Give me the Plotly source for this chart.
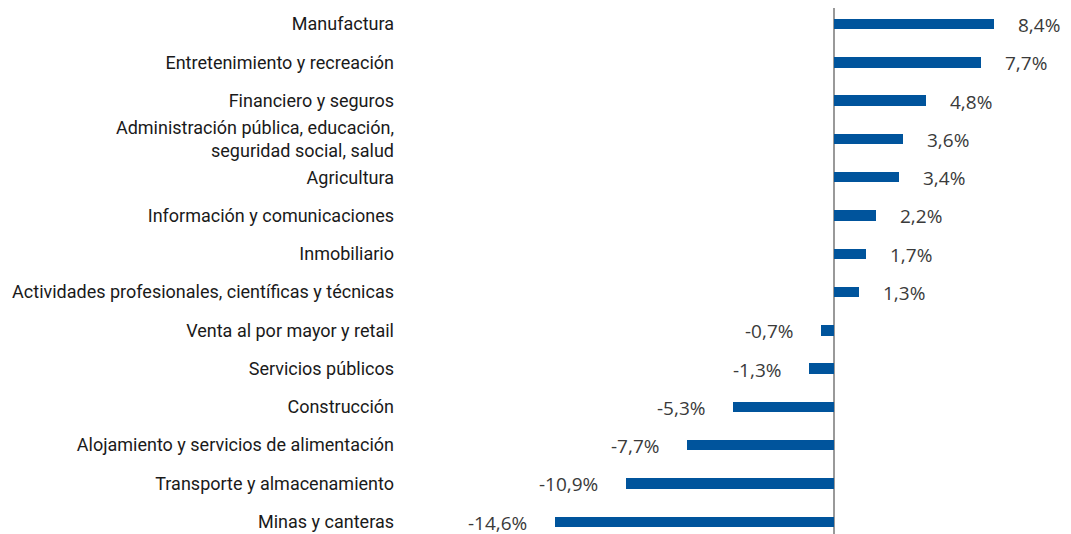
import plotly.graph_objects as go

categories = [
    "Manufactura",
    "Entretenimiento y recreación",
    "Financiero y seguros",
    "Administración pública, educación,<br>seguridad social, salud",
    "Agricultura",
    "Información y comunicaciones",
    "Inmobiliario",
    "Actividades profesionales, científicas y técnicas",
    "Venta al por mayor y retail",
    "Servicios públicos",
    "Construcción",
    "Alojamiento y servicios de alimentación",
    "Transporte y almacenamiento",
    "Minas y canteras",
]
values = [8.4, 7.7, 4.8, 3.6, 3.4, 2.2, 1.7, 1.3, -0.7, -1.3, -5.3, -7.7, -10.9, -14.6]

BAR_COLOR = "#00549C"
LABEL_COLOR = "#3a3a3a"

fig = go.Figure(
    go.Bar(
        x=values,
        y=categories,
        orientation="h",
        marker=dict(color=BAR_COLOR, line=dict(width=0)),
        width=0.27,
        hoverinfo="skip",
    )
)

annotations = []
for cat, v in zip(categories, values):
    txt = f"{v:.1f}".replace(".", ",") + "%"
    annotations.append(
        dict(
            x=v,
            y=cat,
            xref="x",
            yref="y",
            text=txt,
            showarrow=False,
            xanchor="left" if v >= 0 else "right",
            xshift=23 if v >= 0 else -27,
            yshift=-1,
            borderpad=0,
            font=dict(family="Open Sans", size=19, color=LABEL_COLOR),
        )
    )

# The page body adds an 8px offset; margins compensate for it.
fig.update_layout(
    width=1071,
    height=534,
    margin=dict(l=397, r=8, t=0, b=8),
    paper_bgcolor="white",
    plot_bgcolor="white",
    showlegend=False,
    bargap=0,
    annotations=annotations,
    font=dict(family="Roboto", size=18, color="#1a1a1a"),
)

fig.update_xaxes(
    range=[-22.46, 12.41],
    showgrid=False,
    showticklabels=False,
    ticks="",
    showline=False,
    zeroline=True,
    zerolinecolor="#999999",
    zerolinewidth=2,
)
fig.update_yaxes(
    type="category",
    categoryorder="array",
    categoryarray=categories,
    range=[13.32, -0.42],
    showgrid=False,
    showline=False,
    ticks="",
    ticklabelstandoff=10,
    tickfont=dict(family="Roboto", size=18, color="#1a1a1a"),
)

fig.write_html("out.html")
